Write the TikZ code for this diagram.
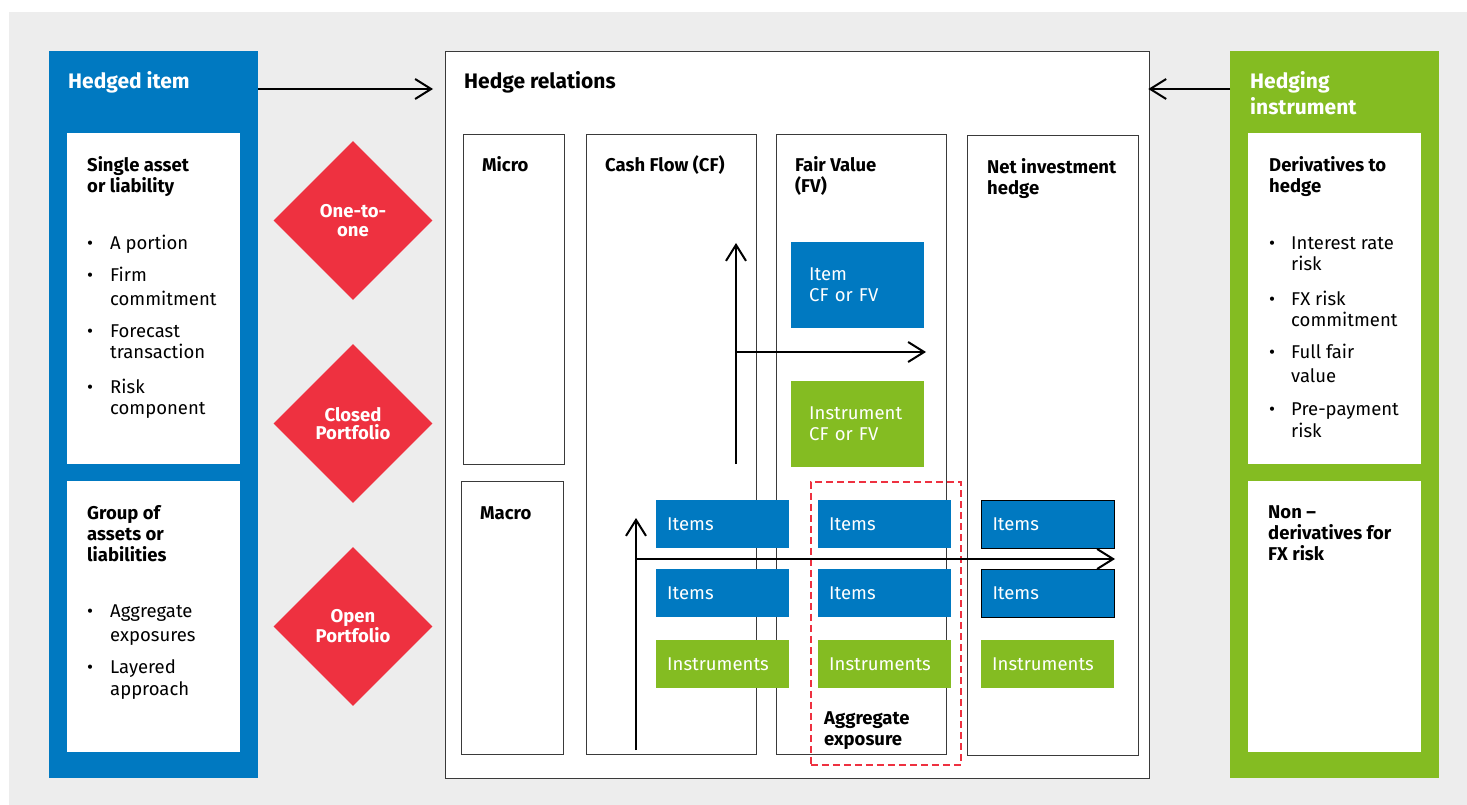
\documentclass[tikz,border=0pt]{standalone}
\usepackage{fontspec}
\setmainfont{Fira Sans}
\usetikzlibrary{arrows.meta,shapes.geometric}
\definecolor{bgray}{HTML}{EDEDED}
\definecolor{kblue}{HTML}{0079C1}
\definecolor{kgreen}{HTML}{84BC22}
\definecolor{kred}{HTML}{EE3140}
\definecolor{kline}{HTML}{3A3A3A}
\begin{document}
\begin{tikzpicture}[x=1pt,y=-1pt,
  blk/.style={rectangle,inner sep=0pt,anchor=north west,draw=none},
  whitebox/.style={blk,fill=white},
  frame/.style={blk,fill=white,draw=kline,line width=1.3pt},
  tag/.style={blk,text=white,font=\fontsize{18.5}{21}\selectfont,align=left,inner xsep=11pt,inner ysep=0pt,minimum width=133pt,text width=111pt},
  bigtag/.style={tag,inner xsep=18pt,text width=97pt,minimum height=86pt},
  txt/.style={anchor=base west,inner sep=0pt,align=left},
  ttl/.style={txt,font=\fontsize{21}{26}\selectfont\bfseries},
  hd/.style={txt,font=\fontsize{18.5}{21}\selectfont\bfseries},
  bd/.style={txt,font=\fontsize{18.5}{22}\selectfont},
  dot/.style={anchor=base,inner sep=0pt,font=\fontsize{18.5}{22}\selectfont},
  dia/.style={diamond,aspect=1,fill=kred,minimum width=159pt,minimum height=159pt,inner sep=0pt,text=white,align=center,font=\fontsize{18.5}{18.5}\selectfont\bfseries},
  arr/.style={line width=2pt,-{Straight Barb[length=16pt,width=20pt,line width=2pt]}}
]
\useasboundingbox (0,0) rectangle (1467,805);
\fill[bgray] (9,12) rectangle (1467,805);

% left panel
\node[blk,fill=kblue,minimum width=209pt,minimum height=727pt] (hedged) at (49,51) {};
\node[whitebox,minimum width=173pt,minimum height=331pt] (single) at (67,133) {};
\node[whitebox,minimum width=173pt,minimum height=271pt] (group) at (67,481) {};
\node[ttl,text=white] (httl) at (68,89) {Hedged item};
\node[hd] (shd) at (87,193) {Single asset\\or liability};
\node[dot] (b1) at (90,249) {•}; \node[bd] (t1) at (110,249) {A portion};
\node[dot] (b2) at (90,281) {•}; \node[bd,font=\fontsize{18.5}{24}\selectfont] (t2) at (110,305) {Firm\\commitment};
\node[dot] (b3) at (90,337) {•}; \node[bd,font=\fontsize{18.5}{21}\selectfont] (t3) at (110,358) {Forecast\\transaction};
\node[dot] (b4) at (90,393) {•}; \node[bd,font=\fontsize{18.5}{21}\selectfont] (t4) at (110,414) {Risk\\component};
\node[hd] (ghd) at (87,561) {Group of\\assets or\\liabilities};
\node[dot] (b5) at (90,617) {•}; \node[bd,font=\fontsize{18.5}{24}\selectfont] (t5) at (110,641) {Aggregate\\exposures};
\node[dot] (b6) at (90,673) {•}; \node[bd,font=\fontsize{18.5}{22}\selectfont] (t6) at (110,695) {Layered\\approach};

% diamonds
\node[dia] (d1) at (353,220.5) {One-to-\\one};
\node[dia] (d2) at (353,423.5) {Closed\\Portfolio};
\node[dia] (d3) at (353,626.5) {Open\\Portfolio};

% hedge relations
\node[frame,minimum width=704pt,minimum height=727pt] (hrel) at (445,51) {};
\node[ttl] (hrttl) at (464,89) {Hedge relations};
\node[frame,minimum width=101pt,minimum height=330pt] (micro) at (463,134) {};
\node[frame,minimum width=102pt,minimum height=273pt] (macro) at (461,481) {};
\node[frame,minimum width=170pt,minimum height=620pt] (cf) at (586,134) {};
\node[frame,minimum width=170pt,minimum height=620pt] (fv) at (776,134) {};
\node[frame,minimum width=171pt,minimum height=620pt] (nih) at (967,135) {};
\node[hd] at (482,172) (microt) {Micro};
\node[hd] at (480,519) (macrot) {Macro};
\node[hd] at (605,172) (cft) {Cash Flow (CF)};
\node[hd] at (795,193) (fvt) {Fair Value\\(FV)};
\node[hd] at (987,195) (niht) {Net investment\\hedge};

\node[bigtag,fill=kblue] (itemcf) at (791,242) {Item\\CF or FV};
\node[bigtag,fill=kgreen] (instcf) at (791,381) {Instrument\\CF or FV};

\node[tag,fill=kblue,minimum height=48pt] (i11) at (656,500) {Items};
\node[tag,fill=kblue,minimum height=48pt] (i12) at (656,569) {Items};
\node[tag,fill=kgreen,minimum height=48pt] (i13) at (656,640) {Instruments};
\node[tag,fill=kblue,minimum height=48pt] (i21) at (818,500) {Items};
\node[tag,fill=kblue,minimum height=48pt] (i22) at (818,569) {Items};
\node[tag,fill=kgreen,minimum height=48pt] (i23) at (818,640) {Instruments};
\node[tag,fill=kblue,draw=black,line width=1pt,minimum height=48pt] (i31) at (981,500) {Items};
\node[tag,fill=kblue,draw=black,line width=1pt,minimum height=48pt] (i32) at (981,569) {Items};
\node[tag,fill=kgreen,minimum height=48pt] (i33) at (981,640) {Instruments};

\node[blk,draw=kred,line width=1.5pt,dash pattern=on 7pt off 4pt,minimum width=150pt,minimum height=283pt] (agg) at (810,481) {};
\node[hd] (aggt) at (824,745) {Aggregate\\exposure};

% right panel
\node[blk,fill=kgreen,minimum width=209pt,minimum height=727pt] (hinst) at (1230,51) {};
\node[whitebox,minimum width=173pt,minimum height=331pt] (deriv) at (1248,133) {};
\node[whitebox,minimum width=173pt,minimum height=271pt] (nonder) at (1248,481) {};
\node[ttl,text=white] (gttl) at (1250,115) {Hedging\\instrument};
\node[hd] (dhd) at (1269,193) {Derivatives to\\hedge};
\node[dot] (r1) at (1272,249) {•}; \node[bd,font=\fontsize{18.5}{21}\selectfont] (s1) at (1291,270) {Interest rate\\risk};
\node[dot] (r2) at (1272,305) {•}; \node[bd,font=\fontsize{18.5}{21}\selectfont] (s2) at (1291,326) {FX risk\\commitment};
\node[dot] (r3) at (1272,358) {•}; \node[bd,font=\fontsize{18.5}{24}\selectfont] (s3) at (1291,382) {Full fair\\value};
\node[dot] (r4) at (1272,415) {•}; \node[bd,font=\fontsize{18.5}{22}\selectfont] (s4) at (1291,437) {Pre-payment\\risk};
\node[hd] (nhd) at (1268,560) {Non –\\derivatives for\\FX risk};

% connectors
\draw[arr,shorten >=12pt] (hedged.east |- hrttl.base) -- (hrel.west |- hrttl.base);
\draw[arr,shorten >=-2pt] (hinst.west |- hrttl.base) -- (hrel.east |- hrttl.base);

\coordinate (mv0) at (736,464);
\coordinate (mv1) at (736,243);
\coordinate (mh0) at (736,352);
\coordinate (mh1) at (926,352);
\draw[arr] (mv0) -- (mv1);
\draw[arr] (mh0) -- (mh1);

\coordinate (av0) at (636,750);
\coordinate (av1) at (636,518);
\coordinate (ah0) at (636,559);
\coordinate (ah1) at (1115,559);
\draw[arr] (av0) -- (av1);
\draw[arr] (ah0) -- (ah1);
\end{tikzpicture}
\end{document}
